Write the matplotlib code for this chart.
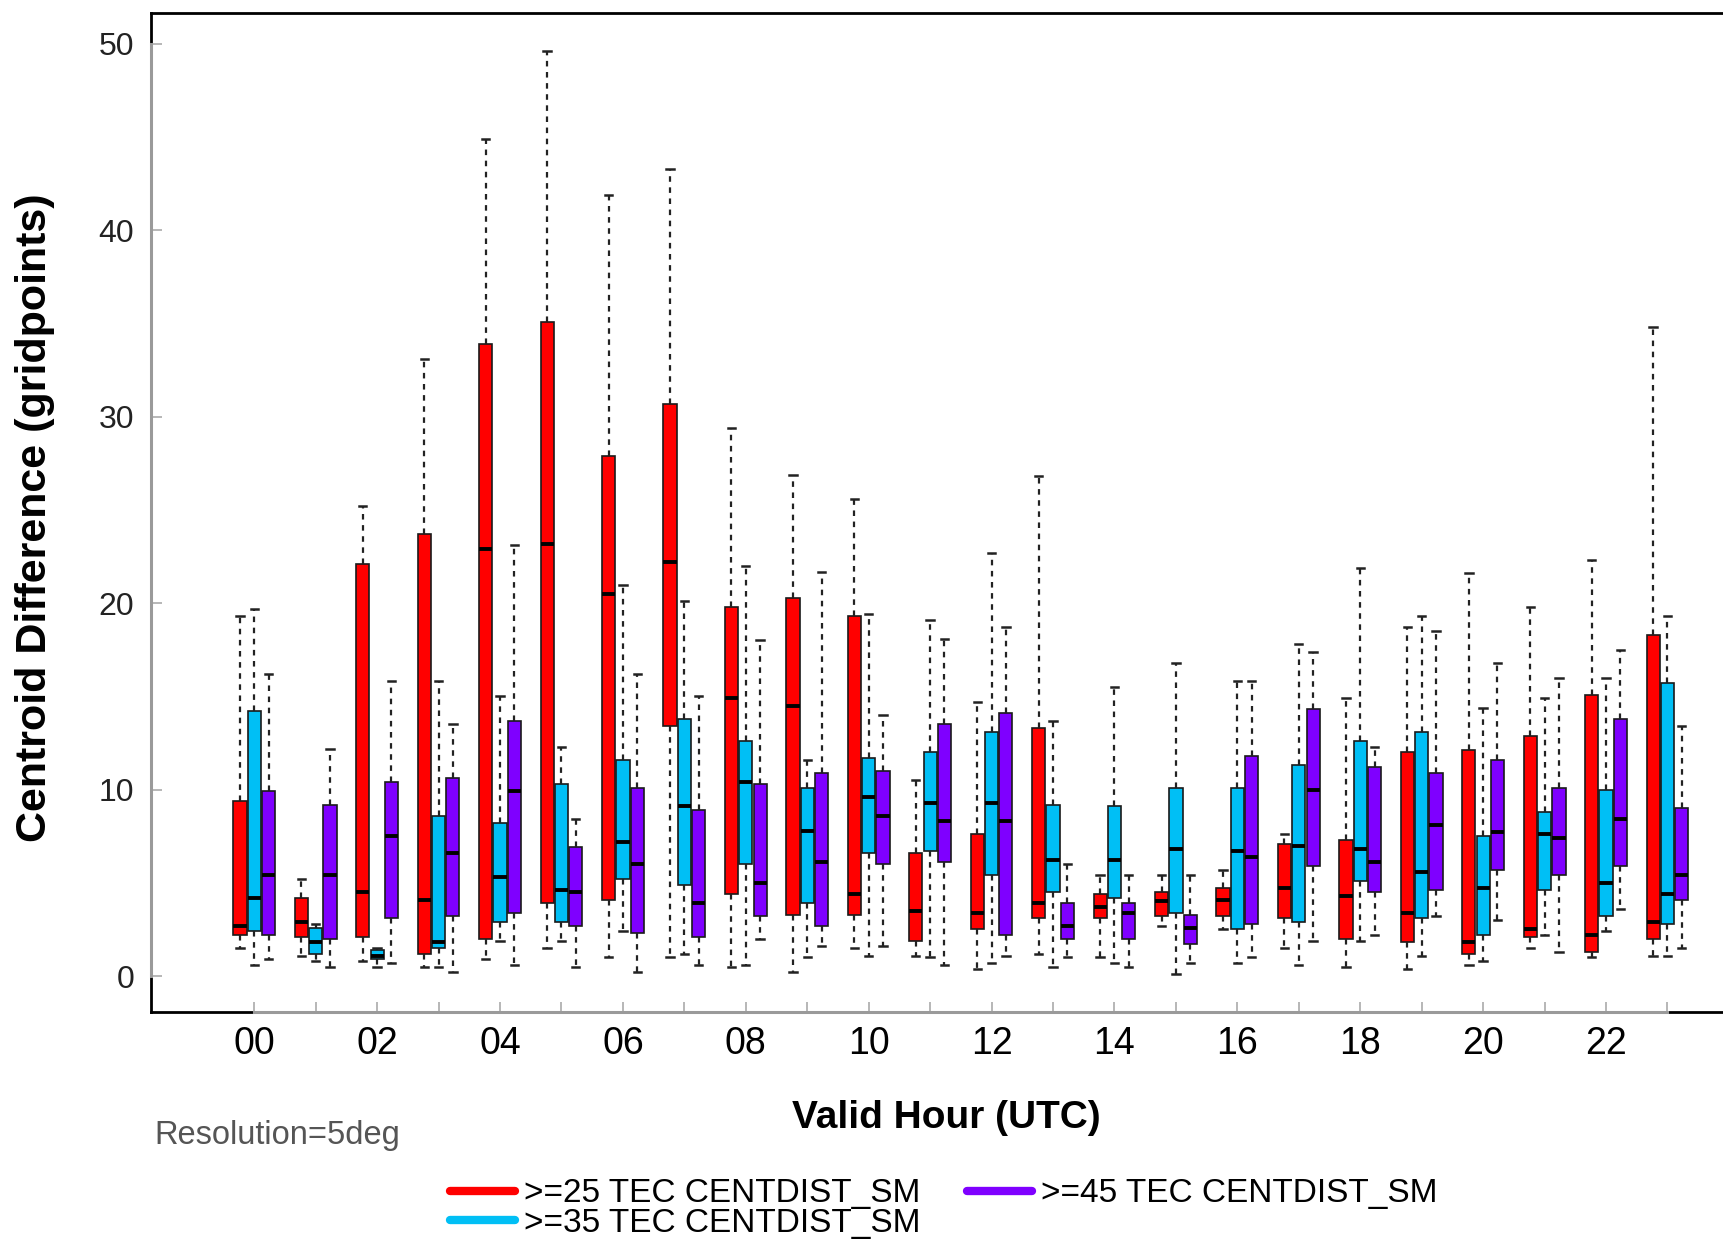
import matplotlib
matplotlib.use("Agg")
import matplotlib.pyplot as plt
from matplotlib.lines import Line2D

plt.rcParams['font.family'] = ['Liberation Sans', 'DejaVu Sans']

hours = list(range(24))
hour_labels = ["%02d" % h if h % 2 == 0 else "" for h in hours]
yticks = [0, 10, 20, 30, 40, 50]

series_names = [">=25 TEC CENTDIST_SM", ">=35 TEC CENTDIST_SM", ">=45 TEC CENTDIST_SM"]
series_colors = ["#ff0000", "#00bff5", "#7f00ff"]

# >=25 TEC : whislo, q1, med, q3, whishi per hour
tec25_lo  = [1.5, 1.1, 0.8, 0.5, 0.9, 1.5, 1.0, 1.0, 0.5, 0.2, 1.5, 1.1, 0.4, 1.2, 1.0, 2.7, 2.5, 1.5, 0.5, 0.4, 0.6, 1.5, 1.0, 1.1]
tec25_q1  = [2.2, 2.1, 2.1, 1.2, 2.0, 3.9, 4.1, 13.4, 4.4, 3.3, 3.3, 1.9, 2.5, 3.1, 3.1, 3.2, 3.2, 3.1, 2.0, 1.8, 1.2, 2.1, 1.3, 2.0]
tec25_med = [2.7, 2.9, 4.5, 4.1, 22.9, 23.2, 20.5, 22.2, 14.9, 14.5, 4.4, 3.5, 3.4, 3.9, 3.7, 4.0, 4.1, 4.7, 4.3, 3.4, 1.8, 2.5, 2.2, 2.9]
tec25_q3  = [9.4, 4.2, 22.1, 23.7, 33.9, 35.1, 27.9, 30.7, 19.8, 20.3, 19.3, 6.6, 7.6, 13.3, 4.4, 4.5, 4.7, 7.1, 7.3, 12.0, 12.1, 12.9, 15.1, 18.3]
tec25_hi  = [19.3, 5.2, 25.2, 33.1, 44.9, 49.6, 41.9, 43.3, 29.4, 26.9, 25.6, 10.5, 14.7, 26.8, 5.4, 5.4, 5.7, 7.6, 14.9, 18.7, 21.6, 19.8, 22.3, 34.8]

# >=35 TEC
tec35_lo  = [0.6, 0.8, 0.5, 0.5, 1.9, 1.9, 2.4, 1.2, 0.6, 1.0, 1.1, 1.0, 0.7, 0.5, 0.7, 0.1, 0.7, 0.6, 1.9, 1.1, 0.8, 2.2, 2.4, 1.1]
tec35_q1  = [2.4, 1.2, 0.9, 1.5, 2.9, 2.9, 5.2, 4.9, 6.0, 3.9, 6.6, 6.7, 5.4, 4.5, 4.2, 3.4, 2.5, 2.9, 5.1, 3.1, 2.2, 4.6, 3.2, 2.8]
tec35_med = [4.2, 1.8, 1.1, 1.8, 5.3, 4.6, 7.2, 9.1, 10.4, 7.8, 9.6, 9.3, 9.3, 6.2, 6.2, 6.8, 6.7, 7.0, 6.8, 5.6, 4.7, 7.6, 5.0, 4.4]
tec35_q3  = [14.2, 2.6, 1.4, 8.6, 8.2, 10.3, 11.6, 13.8, 12.6, 10.1, 11.7, 12.0, 13.1, 9.2, 9.1, 10.1, 10.1, 11.3, 12.6, 13.1, 7.5, 8.8, 10.0, 15.7]
tec35_hi  = [19.7, 2.8, 1.5, 15.8, 15.0, 12.3, 21.0, 20.1, 22.0, 11.6, 19.4, 19.1, 22.7, 13.7, 15.5, 16.8, 15.8, 17.8, 21.9, 19.3, 14.4, 14.9, 16.0, 19.3]

# >=45 TEC
tec45_lo  = [0.9, 0.5, 0.7, 0.2, 0.6, 0.5, 0.2, 0.6, 2.0, 1.6, 1.6, 0.6, 1.1, 1.0, 0.5, 0.7, 1.0, 1.9, 2.2, 3.2, 3.0, 1.3, 3.6, 1.5]
tec45_q1  = [2.2, 2.0, 3.1, 3.2, 3.4, 2.7, 2.3, 2.1, 3.2, 2.7, 6.0, 6.1, 2.2, 2.0, 2.0, 1.7, 2.8, 5.9, 4.5, 4.6, 5.7, 5.4, 5.9, 4.1]
tec45_med = [5.4, 5.4, 7.5, 6.6, 9.9, 4.5, 6.0, 3.9, 5.0, 6.1, 8.6, 8.3, 8.3, 2.7, 3.4, 2.6, 6.4, 10.0, 6.1, 8.1, 7.7, 7.4, 8.4, 5.4]
tec45_q3  = [9.9, 9.2, 10.4, 10.6, 13.7, 6.9, 10.1, 8.9, 10.3, 10.9, 11.0, 13.5, 14.1, 3.9, 3.9, 3.3, 11.8, 14.3, 11.2, 10.9, 11.6, 10.1, 13.8, 9.0]
tec45_hi  = [16.2, 12.2, 15.8, 13.5, 23.1, 8.4, 16.2, 15.0, 18.0, 21.7, 14.0, 18.1, 18.7, 6.0, 5.4, 5.4, 15.8, 17.4, 12.3, 18.5, 16.8, 16.0, 17.5, 13.4]

series = [
    (tec25_lo, tec25_q1, tec25_med, tec25_q3, tec25_hi),
    (tec35_lo, tec35_q1, tec35_med, tec35_q3, tec35_hi),
    (tec45_lo, tec45_q1, tec45_med, tec45_q3, tec45_hi),
]
offsets = [-0.233, 0.0, 0.233]

fig = plt.figure(figsize=(17.24, 12.42), dpi=100)
ax = fig.add_axes([151 / 1724, (1242 - 1012) / 1242, 1 - 151 / 1724, (1012 - 13) / 1242])

for (lo, q1, med, q3, hi), off, col in zip(series, offsets, series_colors):
    stats = [dict(whislo=lo[i], q1=q1[i], med=med[i], q3=q3[i], whishi=hi[i]) for i in range(len(hours))]
    ax.bxp(stats, positions=[h + off for h in hours], widths=0.215, capwidths=0.12,
           patch_artist=True, showfliers=False, manage_ticks=False,
           boxprops=dict(facecolor=col, edgecolor="#1a1a1a", linewidth=1.2),
           medianprops=dict(color="black", linewidth=2.8, solid_capstyle="butt"),
           whiskerprops=dict(color="#222222", linewidth=1.6, linestyle=(0, (2.5, 2.5))),
           capprops=dict(color="#222222", linewidth=1.8))

ax.set_xlim(-1.68, 23.92)
ax.set_ylim(-1.93, 51.66)
ax.set_xticks(hours)
ax.set_xticklabels(hour_labels, fontsize=27, color="black")
ax.set_yticks(yticks)
ax.set_yticklabels([str(v) for v in yticks], fontsize=23, color="#222222")
ax.tick_params(axis="x", direction="in", length=7, width=1.2, color="#aaaaaa", pad=10)
ax.tick_params(axis="y", direction="in", length=8, width=1.2, color="#aaaaaa", pad=12)

for s in ["top", "left", "bottom"]:
    ax.spines[s].set_linewidth(2.0)
    ax.spines[s].set_color("black")
ax.spines["right"].set_visible(False)

# lighter axis lines over the labelled range (as in the original)
ax.plot([-1.68, -1.68], [yticks[0], yticks[-1]], color="#9a9a9a", lw=2.2, clip_on=False, zorder=5)
ax.plot([hours[0], hours[-1]], [-1.93, -1.93], color="#9a9a9a", lw=2.2, clip_on=False, zorder=5)

fig.text(35 / 1724, 1 - 518 / 1242, "Centroid Difference (gridpoints)", rotation=90,
         ha="center", va="center", fontsize=31, fontweight="bold")
fig.text(946 / 1724, 1 - 1118 / 1242, "Valid Hour (UTC)", ha="center", va="center",
         fontsize=28, fontweight="bold")
fig.text(154 / 1724, 1 - 1144 / 1242, "Resolution=5deg", ha="left", va="baseline",
         fontsize=23.5, color="#555555")

handles = [Line2D([0], [0], color=c, lw=6, solid_capstyle="round") for c in series_colors]
fig.legend(handles, series_names, loc="center", bbox_to_anchor=(944 / 1724, 1 - 1208.5 / 1242),
           ncol=2, frameon=False, fontsize=24, handlelength=1.95, handletextpad=0.27,
           columnspacing=1.4, labelspacing=-0.05, borderpad=0.0, borderaxespad=0.0)

fig.savefig("out.png", dpi=100)
